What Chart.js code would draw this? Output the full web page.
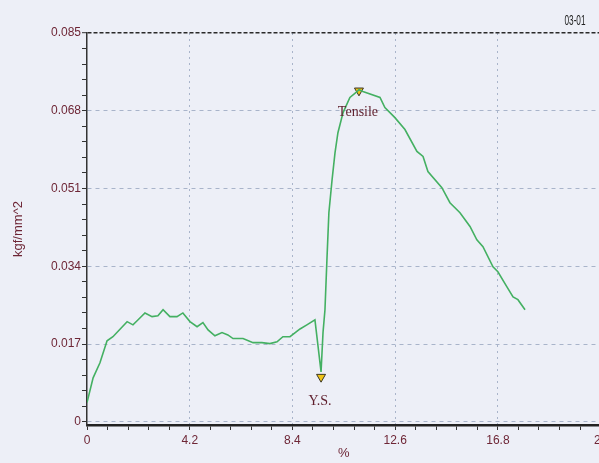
<!DOCTYPE html>
<html>
<head>
<meta charset="utf-8">
<script src="https://cdn.jsdelivr.net/npm/chart.js@4.4.1/dist/chart.umd.min.js"></script>
<style>
  html, body { margin: 0; padding: 0; overflow: hidden; background: #edeff7; }
  #wrap { position: relative; width: 620px; height: 463px; }
</style>
</head>
<body>
<div id="wrap"><canvas id="myChart"></canvas></div>
<script>
// strain (%) and stress (kgf/mm^2)
const strainPct = [0, 0.25, 0.53, 0.82, 1.06, 1.64, 1.88, 2.09, 2.37, 2.66, 2.9, 3.11, 3.39, 3.68, 3.92,
  4.21, 4.5, 4.74, 4.95, 5.23, 5.52, 5.76, 5.97, 6.38, 6.79, 7.15, 7.48, 7.77, 8.01, 8.3, 8.71, 8.99,
  9.32, 9.57, 9.65, 9.73, 9.81, 9.89, 10.02, 10.14, 10.26, 10.47, 10.75, 11.04, 11.12, 11.28, 11.98,
  12.18, 12.59, 13.0, 13.49, 13.74, 13.94, 14.51, 14.84, 15.25, 15.66, 15.94, 16.19, 16.6, 16.8,
  17.17, 17.42, 17.62, 17.91];
const stressKgf = [0.0042, 0.0096, 0.0129, 0.0177, 0.0186, 0.0219, 0.0212, 0.0223, 0.0238, 0.023, 0.0232,
  0.0245, 0.023, 0.023, 0.0238, 0.0219, 0.0208, 0.0217, 0.0201, 0.0188, 0.0195, 0.019, 0.0182, 0.0182,
  0.0173, 0.0173, 0.0171, 0.0175, 0.0186, 0.0186, 0.0203, 0.0212, 0.0223, 0.0109, 0.0195, 0.0245,
  0.0354, 0.0457, 0.0529, 0.0588, 0.0632, 0.0676, 0.0709, 0.0722, 0.0726, 0.0722, 0.0709, 0.0687,
  0.0665, 0.0639, 0.0591, 0.058, 0.0547, 0.0512, 0.0479, 0.0457, 0.0427, 0.0398, 0.0383, 0.0339,
  0.0328, 0.0295, 0.0273, 0.0267, 0.0245];

// marked points: yield strength and tensile strength
const markerNames = ["Y.S.", "Tensile"];
const markerX = [9.57, 11.12];
const markerY = [0.0098, 0.0724];

// axis ticks (labels on every 5th tick)
const xTickLabels = ["0", "4.2", "8.4", "12.6", "16.8", "21"];
const yTickLabels = ["0", "0.017", "0.034", "0.051", "0.068", "0.085"];
const xMinorStep = 0.84;
const yMinorStep = 0.0034;

const labelColor = "#6e2636";

const curvePoints = strainPct.map((x, i) => ({ x: x, y: stressKgf[i] }));
const markerPoints = markerX.map((x, i) => ({ x: x, y: markerY[i] }));

// labels under markers and the sample id
const annotate = {
  id: "annotate",
  afterDatasetsDraw(chart) {
    const c = chart.ctx;
    const sx = chart.scales.x, sy = chart.scales.y;
    const offs = [24, 22];
    c.save();
    c.font = "14px 'Liberation Serif', serif";
    c.fillStyle = "#5e1e2c";
    c.textAlign = "center";
    c.textBaseline = "middle";
    markerNames.forEach((name, i) => {
      c.fillText(name, sx.getPixelForValue(markerX[i]) - 1, sy.getPixelForValue(markerY[i]) + offs[i]);
    });
    // sample id at top right (narrow face)
    c.translate(575, 21);
    c.scale(0.55, 1);
    c.font = "15px 'Liberation Sans', sans-serif";
    c.fillStyle = "#222";
    c.fillText("03-01", 0, 0);
    c.restore();
  }
};

document.addEventListener("DOMContentLoaded", function () {
  const ctx = document.getElementById("myChart").getContext("2d");

  new Chart(ctx, {
    type: "line",
    data: {
      datasets: [
        {
          data: curvePoints,
          borderColor: "#44b062",
          borderWidth: 1.6,
          pointRadius: 0,
          tension: 0,
          fill: false,
        },
        {
          data: markerPoints,
          showLine: false,
          pointStyle: "triangle",
          rotation: 180,
          pointRadius: 5.2,
          backgroundColor: "#f0c419",
          borderColor: "#3a3626",
          borderWidth: 1,
        },
      ],
    },
    options: {
      responsive: true,
      maintainAspectRatio: false,
      animation: false,
      layout: { padding: { top: 33, right: 19.4, left: 0, bottom: 0 } },
      plugins: {
        legend: { display: false },
        tooltip: { enabled: false },
      },
      scales: {
        x: {
          type: "linear",
          min: 0,
          max: 21,
          afterBuildTicks: (s) => {
            s.ticks = [];
            for (let i = 0; i <= 25; i++) s.ticks.push({ value: +(i * xMinorStep).toFixed(2) });
          },
          afterFit: (s) => { s.height = 38; },
          ticks: {
            autoSkip: false,
            maxRotation: 0,
            padding: 3,
            color: labelColor,
            font: { family: "'Liberation Sans', Arial", size: 12 },
            callback: (v, i) => (i % 5 === 0 ? xTickLabels[i / 5] : ""),
          },
          grid: {
            color: (c) => (c.index % 5 === 0 && c.index > 0 ? "#a9b4ca" : "rgba(0,0,0,0)"),
            lineWidth: 1,
            tickColor: "#333",
            tickLength: 5,
            tickWidth: 1,
          },
          border: { color: "#222", width: 2.5, dash: [2, 4] },
          title: {
            display: true,
            text: "%",
            color: labelColor,
            font: { family: "'Liberation Sans', Arial", size: 13 },
            padding: { top: 0, bottom: 1.4 },
          },
        },
        y: {
          min: -0.0007,
          max: 0.085,
          afterBuildTicks: (s) => {
            s.ticks = [];
            for (let i = 0; i <= 25; i++) s.ticks.push({ value: +(i * yMinorStep).toFixed(4) });
          },
          afterFit: (s) => { s.width = 87; },
          ticks: {
            autoSkip: false,
            padding: 1,
            color: labelColor,
            font: { family: "'Liberation Sans', Arial", size: 12 },
            callback: (v, i) => (i % 5 === 0 ? yTickLabels[i / 5] : ""),
          },
          grid: {
            color: (c) => {
              if (c.index === 25) return "#2a2a2a";
              return c.index % 5 === 0 ? "#a9b4ca" : "rgba(0,0,0,0)";
            },
            lineWidth: (c) => (c.index === 25 ? 1.4 : 1),
            tickColor: "#333",
            tickLength: 5,
            tickWidth: 1,
          },
          border: {
            color: "#333",
            width: 1.5,
            dash: (c) => (c.index === 25 ? [4, 2] : [4, 4]),
          },
          title: {
            display: true,
            text: "kgf/mm^2",
            color: labelColor,
            font: { family: "'Liberation Sans', Arial", size: 13 },
            padding: { top: 11, bottom: 0 },
          },
        },
      },
    },
    plugins: [annotate],
  });
});
</script>
</body>
</html>
